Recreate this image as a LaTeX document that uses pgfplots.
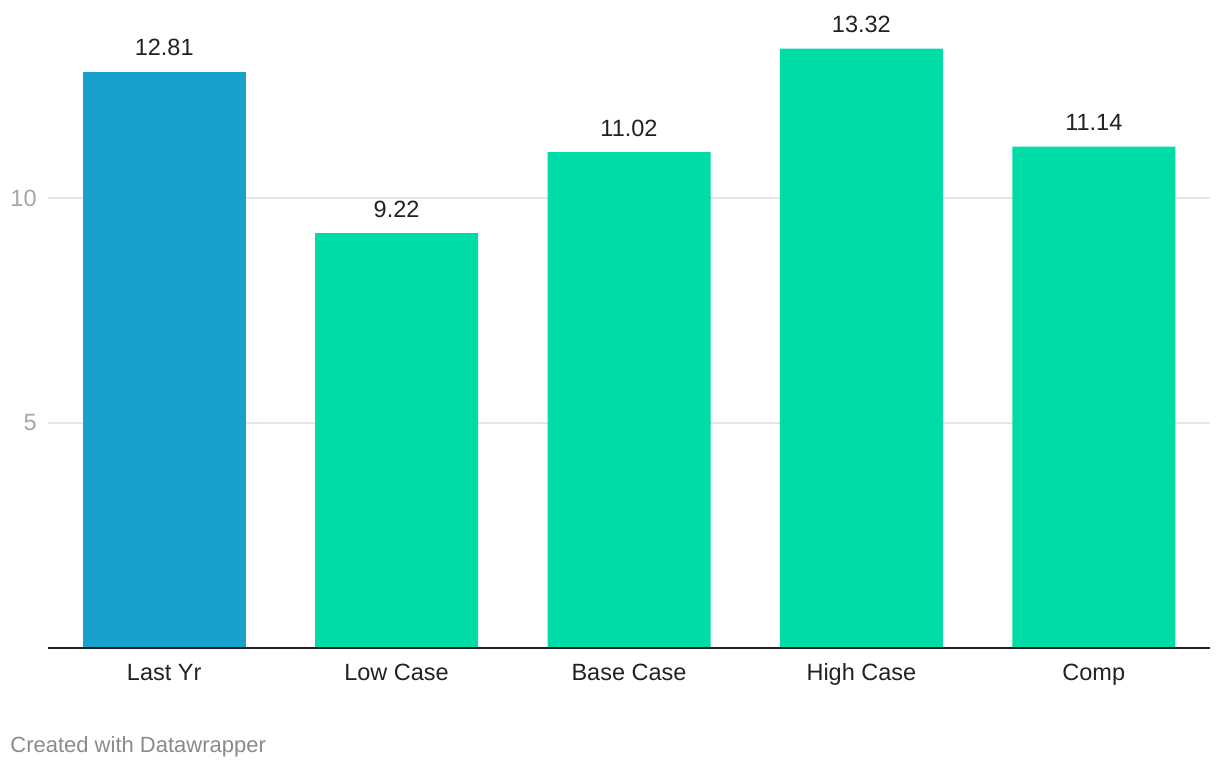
\documentclass[border=0pt]{standalone}
\usepackage{fontspec}
\setmainfont{Liberation Sans}
\usepackage{pgfplots}
\pgfplotsset{compat=1.18}

\definecolor{barblue}{HTML}{18A1CD}
\definecolor{bargreen}{HTML}{00DCA6}
\definecolor{gridgray}{HTML}{E6E6E6}
\definecolor{ticktext}{HTML}{A6A6A6}
\definecolor{labeltext}{HTML}{222222}
\definecolor{credit}{HTML}{8A8A8A}

\begin{document}
\begin{tikzpicture}
\useasboundingbox (0,0) rectangle (610pt,384pt);
\begin{axis}[
    at={(24pt,60pt)},
    anchor=south west,
    scale only axis,
    width=581pt,
    height=315pt,
    xmin=-0.5, xmax=4.5,
    ymin=0, ymax=14,
    axis line style={draw=none},
    major tick length=0pt,
    xtick={0,1,2,3,4},
    xticklabels={Last Yr, Low Case, Base Case, High Case, Comp},
    ytick={5,10},
    ymajorgrids=true,
    major grid style={color=gridgray, line width=0.6pt},
    /pgf/number format/assume math mode=true,
    ticklabel style={font=\fontsize{11.75}{14}\selectfont},
    xticklabel style={anchor=base, yshift=-16pt, text=labeltext, inner sep=0pt},
    yticklabel style={anchor=east, xshift=-5.5pt, text=ticktext, inner sep=0pt},
    nodes near coords={\pgfmathprintnumber[fixed, precision=2, fixed zerofill]{\pgfplotspointmeta}},
    every node near coord/.append style={anchor=base, yshift=8pt, inner sep=0pt,
        text=labeltext, font=\fontsize{11.75}{14}\selectfont},
    clip=false,
]
\addplot[ybar, bar width=81.5pt, bar shift=0pt, fill=barblue, draw=none]
    coordinates {(0,12.81)};
\addplot[ybar, bar width=81.5pt, bar shift=0pt, fill=bargreen, draw=none]
    coordinates {(1,9.22)(2,11.02)(3,13.32)(4,11.14)};
\draw[line width=1.1pt, color=labeltext] (axis cs:-0.5,0) -- (axis cs:4.5,0);
\end{axis}
\node[anchor=base west, inner sep=0pt, text=credit, font=\fontsize{11}{13}\selectfont]
    at (5pt,8pt) {Created with Datawrapper};
\end{tikzpicture}
\end{document}
